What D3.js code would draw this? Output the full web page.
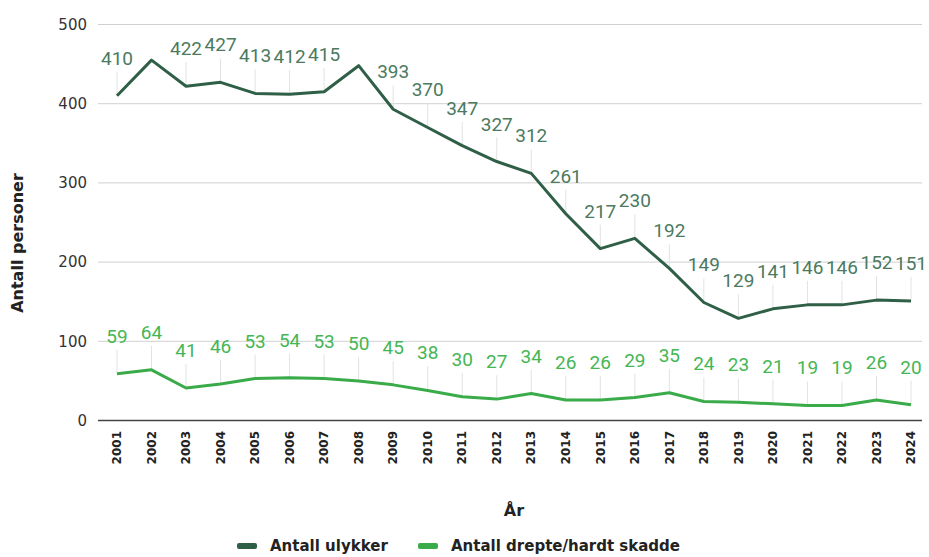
<!DOCTYPE html>
<html>
<head>
<meta charset="utf-8">
<script src="https://cdn.jsdelivr.net/npm/d3@7"></script>
<style>
  body { margin: 0; background: #fff; }
  svg { display: block; }
</style>
</head>
<body>
<svg id="chart" width="929" height="557"></svg>
<script>
// data
var years = ["2001","2002","2003","2004","2005","2006","2007","2008","2009","2010","2011","2012",
             "2013","2014","2015","2016","2017","2018","2019","2020","2021","2022","2023","2024"];
var ulykker = [410,455,422,427,413,412,415,448,393,370,347,327,312,261,217,230,192,149,129,141,146,146,152,151];
var drepte = [59,64,41,46,53,54,53,50,45,38,30,27,34,26,26,29,35,24,23,21,19,19,26,20];
var yTicks = [0,100,200,300,400,500];
var seriesNames = ["Antall ulykker", "Antall drepte/hardt skadde"];

var svg = d3.select("#chart");
var axisFont = "DejaVu Sans, sans-serif";

var x = d3.scalePoint().domain(years).range([117, 911]);
var y = d3.scaleLinear().domain([0, 500]).range([420.5, 24.5]);

var series = [
  { name: seriesNames[0], values: ulykker, line: "#2f5f47", text: "#4b7a5f" },
  { name: seriesNames[1], values: drepte, line: "#3aab49", text: "#45b654" }
];

// gridlines
svg.append("g")
  .selectAll("line")
  .data(yTicks.filter(function(d){ return d > 0; }))
  .enter().append("line")
  .attr("x1", 98).attr("x2", 922)
  .attr("y1", function(d){ return y(d); })
  .attr("y2", function(d){ return y(d); })
  .attr("stroke", "#d0d0d0")
  .attr("stroke-width", 1);

// y tick labels
svg.append("g")
  .selectAll("text")
  .data(yTicks)
  .enter().append("text")
  .attr("x", 87)
  .attr("y", function(d){ return y(d); })
  .attr("dy", "0.35em")
  .attr("text-anchor", "end")
  .attr("font-family", axisFont)
  .attr("font-size", 15)
  .attr("fill", "#333")
  .text(function(d){ return d; });

// leader lines for value labels (labels that would rise above the plot are dropped)
var labelOffset = 31;
var capHeight = 14;
series.forEach(function(s) {
  var pts = s.values.map(function(v, i){ return { year: years[i], v: v }; })
    .filter(function(p){ return y(p.v) - labelOffset - capHeight >= y(500); });

  svg.append("g")
    .selectAll("line")
    .data(pts)
    .enter().append("line")
    .attr("x1", function(p){ return x(p.year); })
    .attr("x2", function(p){ return x(p.year); })
    .attr("y1", function(p){ return y(p.v) - labelOffset + 7; })
    .attr("y2", function(p){ return y(p.v); })
    .attr("stroke", "#e2e2e2")
    .attr("stroke-width", 1);

  s.pts = pts;
});

// zero baseline
svg.append("line")
  .attr("x1", 98).attr("x2", 922)
  .attr("y1", y(0)).attr("y2", y(0))
  .attr("stroke", "#444")
  .attr("stroke-width", 1.5);

// lines
var line = d3.line()
  .x(function(d, i){ return x(years[i]); })
  .y(function(d){ return y(d); });

series.forEach(function(s) {
  svg.append("path")
    .datum(s.values)
    .attr("d", line)
    .attr("fill", "none")
    .attr("stroke", s.line)
    .attr("stroke-width", 3)
    .attr("stroke-linejoin", "round");
});

// value labels
series.forEach(function(s) {
  svg.append("g")
    .selectAll("text")
    .data(s.pts)
    .enter().append("text")
    .attr("x", function(p){ return x(p.year); })
    .attr("y", function(p){ return y(p.v) - labelOffset; })
    .attr("text-anchor", "middle")
    .attr("font-family", "Roboto, sans-serif")
    .attr("font-size", 19)
    .attr("fill", s.text)
    .text(function(p){ return p.v; });
});

// x tick labels
svg.append("g")
  .selectAll("text")
  .data(years)
  .enter().append("text")
  .attr("transform", function(d){ return "translate(" + x(d) + ",431) rotate(-90)"; })
  .attr("dy", "0.35em")
  .attr("text-anchor", "end")
  .attr("font-family", axisFont)
  .attr("font-size", 12)
  .attr("font-weight", 700)
  .attr("fill", "#222")
  .text(function(d){ return d; });

// axis titles
svg.append("text")
  .attr("transform", "translate(23,243) rotate(-90)")
  .attr("text-anchor", "middle")
  .attr("font-family", axisFont)
  .attr("font-size", 16)
  .attr("font-weight", 700)
  .attr("fill", "#222")
  .text("Antall personer");

svg.append("text")
  .attr("x", 514).attr("y", 516)
  .attr("text-anchor", "middle")
  .attr("font-family", axisFont)
  .attr("font-size", 16)
  .attr("font-weight", 700)
  .attr("fill", "#222")
  .text("År");

// legend
var legendX = [237, 418];
var legend = svg.append("g")
  .selectAll("g")
  .data(series)
  .enter().append("g")
  .attr("transform", function(d, i){ return "translate(" + legendX[i] + ",546)"; });

legend.append("rect")
  .attr("x", 0).attr("y", -3)
  .attr("width", 20).attr("height", 6)
  .attr("rx", 2)
  .attr("fill", function(d){ return d.line; });

legend.append("text")
  .attr("x", 33)
  .attr("dy", "0.35em")
  .attr("font-family", axisFont)
  .attr("font-size", 15)
  .attr("font-weight", 700)
  .attr("fill", "#222")
  .text(function(d){ return d.name; });
</script>
</body>
</html>
